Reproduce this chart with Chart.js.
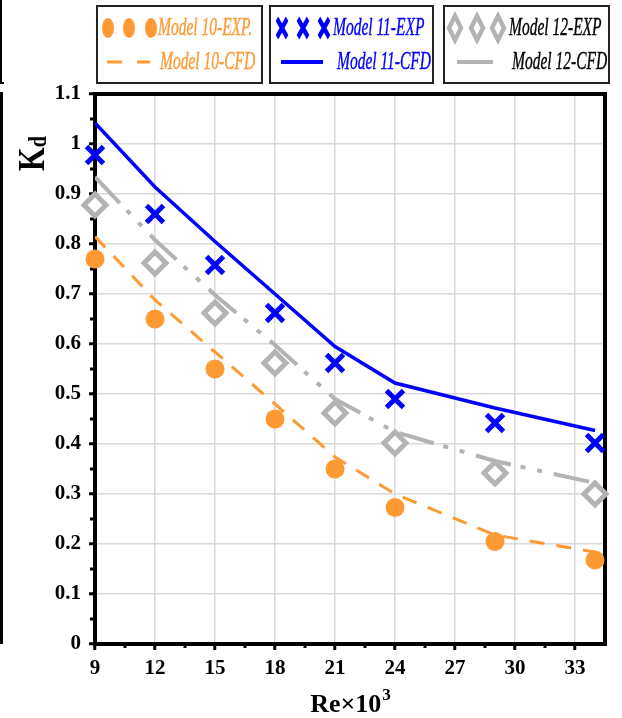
<!DOCTYPE html>
<html>
<head>
<meta charset="utf-8">
<script src="https://cdn.jsdelivr.net/npm/chart.js@4.4.0/dist/chart.umd.min.js"></script>
<style>
body { margin: 0; background: #fff; }
#wrap { position: relative; width: 622px; height: 718px; }
.edge { position: absolute; background: #000; }
</style>
</head>
<body>
<div id="wrap">
  <canvas id="kd" width="622" height="718"></canvas>
  <div class="edge" style="left:0;top:0;width:2px;height:84px"></div>
  <div class="edge" style="left:0;top:82px;width:4px;height:2px"></div>
  <div class="edge" style="left:0;top:92px;width:3px;height:552px"></div>
</div>
<script>
// Re x 10^3
const reValues = [9, 12, 15, 18, 21, 24, 29, 34];
const xTicks = [9, 12, 15, 18, 21, 24, 27, 30, 33];
const yTicks = [0, 0.1, 0.2, 0.3, 0.4, 0.5, 0.6, 0.7, 0.8, 0.9, 1, 1.1];

// Kd
const m10Exp = [0.77, 0.65, 0.55, 0.45, 0.35, 0.273, 0.205, 0.168];
const m10Cfd = [0.815, 0.688, 0.584, 0.48, 0.374, 0.30, 0.218, 0.184];
const m11Exp = [0.978, 0.86, 0.758, 0.662, 0.562, 0.49, 0.442, 0.402];
const m11Cfd = [1.042, 0.914, 0.805, 0.70, 0.595, 0.522, 0.472, 0.427];
const m12Exp = [0.878, 0.762, 0.662, 0.562, 0.462, 0.402, 0.342, 0.30];
const m12Cfd = [0.934, 0.808, 0.698, 0.598, 0.49, 0.424, 0.366, 0.322];

const legendLabels = ['Model 10-EXP.', 'Model 10-CFD', 'Model 11-EXP', 'Model 11-CFD', 'Model 12-EXP', 'Model 12-CFD'];

const orange = '#ff9933', blue = '#0000ff', gray = '#b3b3b3';
const serif = '"Liberation Serif", "Times New Roman", serif';

function pts(arr) {
    return reValues.map((x, i) => ({ x: x, y: arr[i] }));
}

// 图例里的小标记（横向压扁）
function legendPoint(ctx, style, x, y, radius, fill, stroke, bw, sx) {
    ctx.save();
    ctx.translate(x, y);
    ctx.scale(sx, 1);
    ctx.fillStyle = fill;
    ctx.strokeStyle = stroke;
    ctx.lineWidth = bw;
    Chart.helpers.drawPoint(ctx, { pointStyle: style, radius: radius, borderWidth: bw, rotation: 0 }, 0, 0);
    ctx.restore();
}

function legendText(ctx, text, x, y, color) {
    ctx.save();
    ctx.translate(x, y);
    ctx.scale(0.62, 1);
    ctx.font = 'italic 25px ' + serif;
    ctx.fillStyle = color;
    ctx.strokeStyle = color;
    ctx.lineWidth = 0.4;
    ctx.textBaseline = 'middle';
    ctx.fillText(text, 0, 0);
    ctx.strokeText(text, 0, 0);
    ctx.restore();
}

function legendLine(ctx, x1, x2, y, color, w) {
    ctx.save();
    ctx.strokeStyle = color;
    ctx.lineWidth = w;
    ctx.beginPath();
    ctx.moveTo(x1, y);
    ctx.lineTo(x2, y);
    ctx.stroke();
    ctx.restore();
}

const framePlugin = {
    id: 'frame',
    beforeDatasetsDraw(chart) {
        const ctx = chart.ctx, a = chart.chartArea;
        const xs = chart.scales.x, ys = chart.scales.y;
        ctx.save();
        ctx.fillStyle = '#000';
        // 次刻度
        for (let i = 0; i < xTicks.length; i++) {
            const px = xs.getPixelForValue(xTicks[i] + 1.5);
            if (px < a.right - 2) ctx.fillRect(px - 1.5, a.bottom, 3, 4);
        }
        for (let i = 0; i < yTicks.length - 1; i++) {
            const py = ys.getPixelForValue(yTicks[i] + 0.05);
            ctx.fillRect(a.left - 5, py - 1.5, 4, 3);
        }
        // 边框
        ctx.lineWidth = 4;
        ctx.strokeStyle = '#000';
        ctx.strokeRect(a.left, a.top, a.right - a.left, a.bottom - a.top);
        ctx.restore();
    },
    afterDraw(chart) {
        const ctx = chart.ctx, a = chart.chartArea;
        ctx.save();
        // x 轴标题
        ctx.fillStyle = '#000';
        ctx.textBaseline = 'alphabetic';
        ctx.font = 'bold 26px ' + serif;
        const main = 'Re×10';
        const w1 = ctx.measureText(main).width;
        ctx.font = 'bold 17px ' + serif;
        const w2 = ctx.measureText('3').width;
        const cx = (a.left + a.right) / 2;
        let x0 = cx - (w1 + w2) / 2;
        ctx.font = 'bold 26px ' + serif;
        ctx.fillText(main, x0, 712);
        ctx.font = 'bold 17px ' + serif;
        ctx.fillText('3', x0 + w1 + 1, 700);

        // y 轴标题 K_d
        ctx.save();
        ctx.translate(44, 171);
        ctx.rotate(-Math.PI / 2);
        ctx.scale(0.8, 1);
        ctx.font = 'bold 38px ' + serif;
        ctx.fillText('K', 0, 0);
        const kw = ctx.measureText('K').width;
        ctx.font = 'bold 25px ' + serif;
        ctx.fillText('d', kw, 2);
        ctx.restore();

        // 图例框
        ctx.lineWidth = 2;
        ctx.strokeStyle = '#222';
        ctx.strokeRect(97, 6, 165, 77);
        ctx.strokeRect(270, 6, 163, 77);
        ctx.strokeRect(444, 6, 165, 77);

        const r1 = 28, r2 = 62;
        [108, 129, 151].forEach(x => legendPoint(ctx, 'circle', x, r1, 10, orange, orange, 0, 0.6));
        legendLine(ctx, 107, 122, r2, orange, 3);
        legendLine(ctx, 137, 150, r2, orange, 3);
        legendText(ctx, legendLabels[0], 158, r1, orange);
        legendText(ctx, legendLabels[1], 160, r2, orange);

        [282, 303, 324].forEach(x => legendPoint(ctx, 'crossRot', x, r1, 13, blue, blue, 6.5, 0.55));
        legendLine(ctx, 281, 323, r2, blue, 4);
        legendText(ctx, legendLabels[2], 333, r1, blue);
        legendText(ctx, legendLabels[3], 337, r2, blue);

        [455, 477, 498].forEach(x => legendPoint(ctx, 'rectRot', x, r1, 12, '#fff', gray, 7, 0.5));
        legendLine(ctx, 457, 493, r2, gray, 4);
        legendText(ctx, legendLabels[4], 509, r1, '#000');
        legendText(ctx, legendLabels[5], 512, r2, '#000');
        ctx.restore();
    }
};

const tickFont = { family: serif, weight: 'bold', size: 21 };

new Chart(document.getElementById('kd'), {
    type: 'scatter',
    data: {
        datasets: [
            { label: legendLabels[2], data: pts(m11Exp), pointStyle: 'crossRot', pointRadius: 12, borderColor: blue, backgroundColor: blue, borderWidth: 5, clip: false },
            { label: legendLabels[4], data: pts(m12Exp), pointStyle: 'rectRot', pointRadius: 11, borderColor: gray, backgroundColor: '#fff', borderWidth: 5, clip: false },
            { label: legendLabels[0], data: pts(m10Exp), pointStyle: 'circle', pointRadius: 9.5, borderColor: orange, backgroundColor: orange, borderWidth: 0, clip: false },
            { label: legendLabels[3], data: pts(m11Cfd), showLine: true, borderColor: blue, borderWidth: 3.5, pointRadius: 0, tension: 0 },
            { label: legendLabels[5], data: pts(m12Cfd), showLine: true, borderColor: gray, borderWidth: 4, borderDash: [36, 10, 5, 12, 5, 12], pointRadius: 0, tension: 0 },
            { label: legendLabels[1], data: pts(m10Cfd), showLine: true, borderColor: orange, borderWidth: 3, borderDash: [15, 12], pointRadius: 0, tension: 0 }
        ]
    },
    options: {
        responsive: false,
        animation: false,
        events: [],
        layout: { padding: { top: 94, right: 12, left: 0, bottom: 0 } },
        plugins: { legend: { display: false }, tooltip: { enabled: false } },
        scales: {
            x: {
                type: 'linear',
                min: 9,
                max: 34.5,
                afterBuildTicks: s => { s.ticks = xTicks.map(v => ({ value: v })); },
                afterFit: s => { s.height = 74; },
                border: { display: false },
                grid: { color: '#d9d9d9', lineWidth: 1.5, tickLength: 6, tickWidth: 3, tickColor: '#000' },
                ticks: { font: tickFont, color: '#000', padding: 6, maxRotation: 0, autoSkip: false }
            },
            y: {
                min: 0,
                max: 1.1,
                afterBuildTicks: s => { s.ticks = yTicks.map(v => ({ value: v })); },
                afterFit: s => { s.width = 95; },
                border: { display: false },
                grid: { color: '#d9d9d9', lineWidth: 1.5, tickLength: 6, tickWidth: 3, tickColor: '#000' },
                ticks: { font: tickFont, color: '#000', padding: 8, callback: v => String(v) }
            }
        }
    },
    plugins: [framePlugin]
});
</script>
</body>
</html>
